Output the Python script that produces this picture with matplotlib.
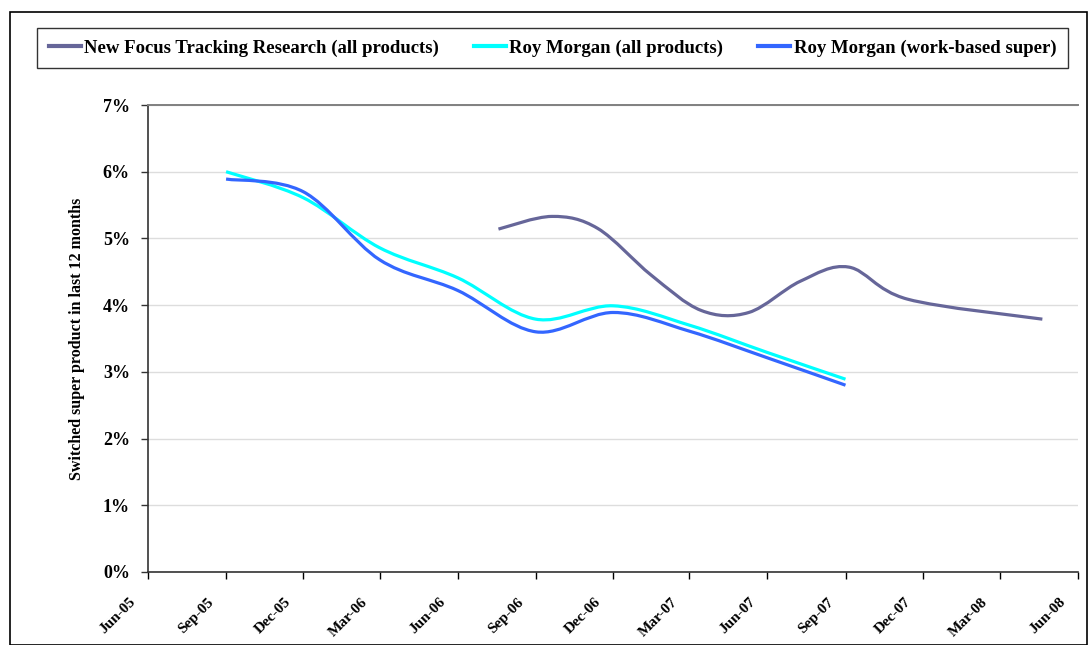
import matplotlib
matplotlib.use("Agg")
import matplotlib.pyplot as plt
import matplotlib.dates as mdates
from matplotlib.path import Path
from matplotlib.patches import PathPatch, Rectangle
from matplotlib.lines import Line2D
import numpy as np
import pandas as pd

# ---- data -------------------------------------------------------------
series_names = [
    "New Focus Tracking Research (all products)",
    "Roy Morgan (all products)",
    "Roy Morgan (work-based super)",
]

new_focus_dates = ["2006-07-19", "2006-09-20", "2006-11-13", "2007-01-15",
                   "2007-03-15", "2007-05-10", "2007-07-10", "2007-09-05",
                   "2007-11-13", "2008-04-20"]
new_focus_values = [5.14, 5.33, 5.15, 4.45, 3.92, 3.89, 4.36, 4.57, 4.09, 3.79]

roy_morgan_dates = ["2005-09-01", "2005-12-01", "2006-03-01", "2006-06-01",
                    "2006-09-01", "2006-12-01", "2007-03-01", "2007-06-01",
                    "2007-09-01"]
roy_morgan_all = [6.00, 5.61, 4.86, 4.41, 3.79, 3.99, 3.70, 3.29, 2.89]
roy_morgan_work = [5.89, 5.70, 4.68, 4.22, 3.60, 3.89, 3.61, 3.21, 2.80]

tick_dates = ["2005-06-01", "2005-09-01", "2005-12-01", "2006-03-01",
              "2006-06-01", "2006-09-01", "2006-12-01", "2007-03-01",
              "2007-06-01", "2007-09-01", "2007-12-01", "2008-03-01",
              "2008-06-01"]
tick_labels = ["Jun-05", "Sep-05", "Dec-05", "Mar-06", "Jun-06", "Sep-06",
               "Dec-06", "Mar-07", "Jun-07", "Sep-07", "Dec-07", "Mar-08",
               "Jun-08"]
y_ticks = [0, 1, 2, 3, 4, 5, 6, 7]
y_tick_labels = ["0%", "1%", "2%", "3%", "4%", "5%", "6%", "7%"]
y_label = "Switched super product in last 12 months"

colors = ["#666699", "#00FFFF", "#3366FF"]

# ---- figure -----------------------------------------------------------
W, H, DPI = 1089, 645, 100
plt.rcParams["font.family"] = ["Liberation Serif", "DejaVu Serif"]
plt.rcParams["font.weight"] = "bold"

fig = plt.figure(figsize=(W / DPI, H / DPI), dpi=DPI)
fig.patch.set_facecolor("white")

# outer chart frame
fig.patches.append(Rectangle((10 / W, 0), (1087 - 10) / W, 1 - 12 / H,
                             transform=fig.transFigure, fill=False,
                             edgecolor="black", linewidth=1.2))

ax_l, ax_r, ax_t, ax_b = 148, 1078, 105, 572
ax = fig.add_axes([ax_l / W, 1 - ax_b / H, (ax_r - ax_l) / W, (ax_b - ax_t) / H])


def smooth_path(xs, ys):
    """Smoothed line through the points (cubic Bezier, Catmull-Rom tangents)."""
    pts = np.column_stack([xs, ys]).astype(float)
    n = len(pts)
    verts = [pts[0]]
    codes = [Path.MOVETO]
    for i in range(n - 1):
        p_prev = pts[i - 1] if i > 0 else pts[i]
        p_next2 = pts[i + 2] if i + 2 < n else pts[i + 1]
        c1 = pts[i] + (pts[i + 1] - p_prev) / 6.0
        c2 = pts[i + 1] - (p_next2 - pts[i]) / 6.0
        verts += [c1, c2, pts[i + 1]]
        codes += [Path.CURVE4] * 3
    return Path(np.array(verts), codes)


def to_num(dates):
    return mdates.date2num(pd.to_datetime(dates).to_pydatetime())


lw = 2.3
series = [
    (to_num(new_focus_dates), new_focus_values),
    (to_num(roy_morgan_dates), roy_morgan_all),
    (to_num(roy_morgan_dates), roy_morgan_work),
]
for (xs, ys), c in zip(series, colors):
    ax.add_patch(PathPatch(smooth_path(xs, ys), fill=False, edgecolor=c,
                           linewidth=lw, capstyle="butt", joinstyle="round",
                           zorder=3))

tick_nums = to_num(tick_dates)
ax.set_xlim(tick_nums[0], tick_nums[-1])
ax.set_ylim(0, 7)

# quarterly ticks; the slanted labels are placed below-left of each tick
ax.set_xticks(tick_nums)
ax.set_xticklabels([])
ax.tick_params(axis="x", direction="out", length=5, width=1, color="black")
for xv, lab in zip(tick_nums, tick_labels):
    ax.annotate(lab, xy=(xv, 0), xycoords=("data", "axes fraction"),
                xytext=(-14, -28), textcoords="offset pixels",
                rotation=45, ha="right", va="center", rotation_mode="anchor",
                fontsize=11, fontweight="bold", annotation_clip=False)

ax.set_yticks(y_ticks)
ax.set_yticklabels(y_tick_labels, fontsize=13, fontweight="bold")
ax.tick_params(axis="y", direction="out", length=5, width=1, pad=8,
               color="#333333")

ax.set_ylabel(y_label, fontsize=11.5, fontweight="bold")
ax.yaxis.set_label_coords((85 - ax_l) / (ax_r - ax_l), 0.5)

ax.grid(axis="y", color="#DDDDDD", linewidth=1.0)
ax.set_axisbelow(True)
ax.spines["right"].set_visible(False)
ax.spines["top"].set_color("#808080")
ax.spines["top"].set_linewidth(1.4)
ax.spines["left"].set_color("#333333")
ax.spines["left"].set_linewidth(1.2)
ax.spines["bottom"].set_color("#333333")
ax.spines["bottom"].set_linewidth(1.2)

# legend across the top
handles = [Line2D([], [], color=c, linewidth=3) for c in colors]
lx0, lx1, ly0, ly1 = 37, 1068, 27, 69
leg = fig.legend(handles, series_names, ncol=3, loc="center",
                 bbox_to_anchor=(lx0 / W, 1 - ly1 / H, (lx1 - lx0) / W, (ly1 - ly0) / H),
                 mode="expand", frameon=True, fancybox=False, shadow=False,
                 prop={"size": 13.5, "weight": "bold"}, handlelength=1.7,
                 handletextpad=0.2, borderpad=0.62, borderaxespad=0)
leg.get_frame().set_edgecolor("black")
leg.get_frame().set_linewidth(1.0)

fig.savefig("out.png", dpi=DPI, facecolor="white")
